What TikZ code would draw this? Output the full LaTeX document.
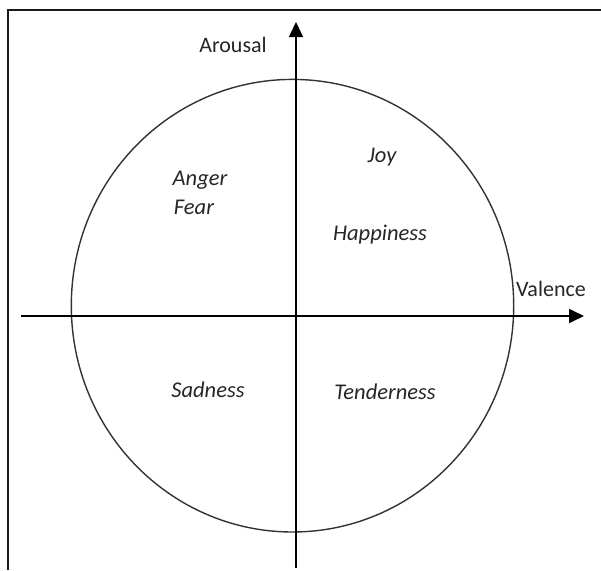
\documentclass[tikz,border=0pt]{standalone}
\usepackage{fontspec}
\setmainfont{Carlito}
\usetikzlibrary{arrows.meta}
\begin{document}
\begin{tikzpicture}[x=1pt,y=-1pt,
  axis/.style={line width=1.6pt,black,-{Triangle[length=15pt,width=14pt]}},
  axlabel/.style={font=\fontsize{22}{26}\selectfont,text=black!85,inner sep=0pt},
  emo/.style={font=\fontsize{22.5}{27}\selectfont\itshape,text=black!85,inner sep=0pt},
  frame/.style={line width=2pt,black!90}]
\useasboundingbox (0,0) rectangle (601,570);
\fill[white] (0,0) rectangle (601,570);
\draw[frame] (8,570) -- (8,10) -- (601,10);
\draw[line width=1.4pt,black!80] (292.5,305.7) ellipse [x radius=221.2, y radius=226.3];
\coordinate (xs) at (21,316);
\coordinate (xe) at (584,316);
\coordinate (ys) at (296,568);
\coordinate (ye) at (296,22);
\draw[axis] (xs) -- (xe);
\draw[axis] (ys) -- (ye);
\node[axlabel] (arousal) at (233,45) {Arousal};
\node[axlabel] (valence) at (551,289) {Valence};
\node[emo] (joy) at (382,157) {Joy};
\node[emo] (anger) at (200,180) {Anger};
\node[emo] (fear) at (194,207) {Fear};
\node[emo] (happy) at (380,235) {Happiness};
\node[emo] (sad) at (208,390) {Sadness};
\node[emo] (tender) at (385,392) {Tenderness};
\end{tikzpicture}
\end{document}
